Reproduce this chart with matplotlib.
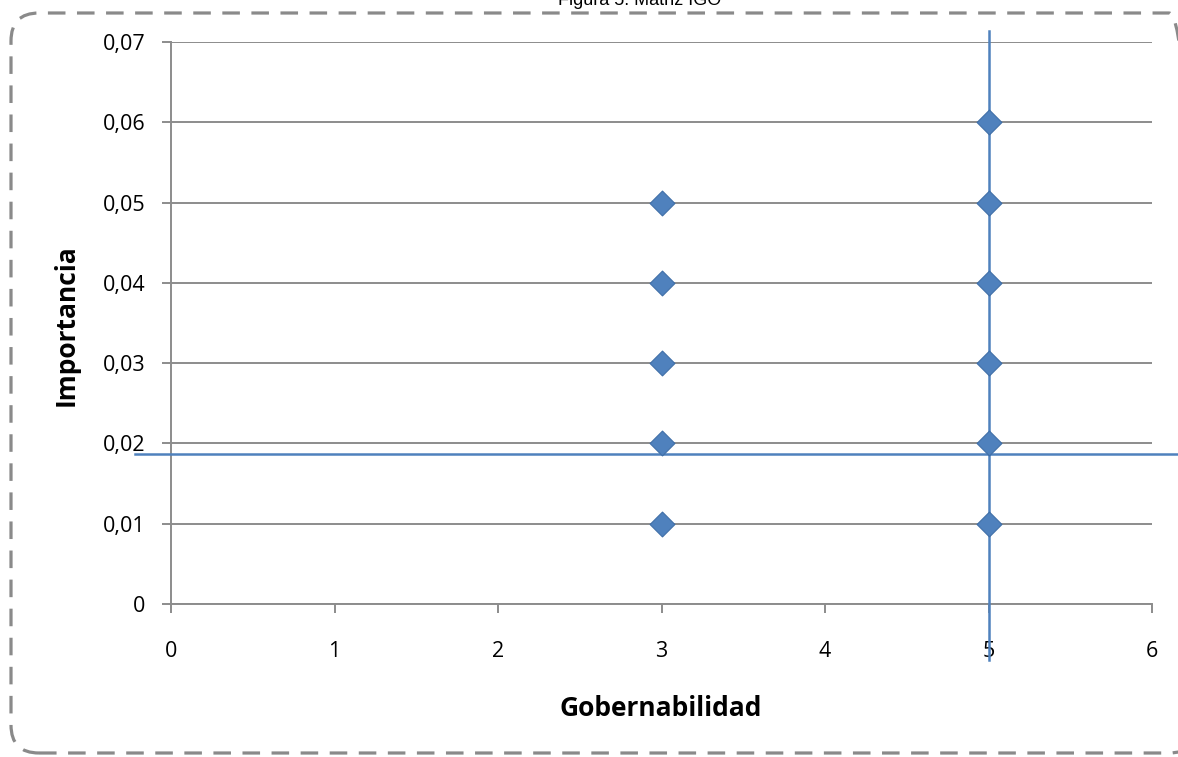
import matplotlib
matplotlib.use("Agg")
import matplotlib.pyplot as plt
from matplotlib.patches import FancyBboxPatch
from matplotlib.transforms import IdentityTransform

# Data
gob_x = [3, 3, 3, 3, 3, 5, 5, 5, 5, 5, 5]
imp_y = [0.01, 0.02, 0.03, 0.04, 0.05, 0.01, 0.02, 0.03, 0.04, 0.05, 0.06]
x_ticks = [0, 1, 2, 3, 4, 5, 6]
y_ticks = [0, 0.01, 0.02, 0.03, 0.04, 0.05, 0.06, 0.07]
y_tick_labels = ["0", "0,01", "0,02", "0,03", "0,04", "0,05", "0,06", "0,07"]
h_line_y = 0.0187
v_line_x = 5
h_line_span = (-0.22, 6.16)
v_line_span = (-0.007, 0.0714)

W, H = 1178, 757
fig = plt.figure(figsize=(W / 100, H / 100), dpi=100)
ax = fig.add_axes([171 / W, 1 - 604 / H, (1152 - 171) / W, (604 - 42) / H])

tick_font = "Open Sans"
grid_c = "#8c8c8c"
blue = "#4F81BD"

ax.set_xlim(0, 6)
ax.set_ylim(0, 0.07)
ax.set_xticks(x_ticks)
ax.set_xticklabels([str(t) for t in x_ticks], fontfamily=tick_font, fontsize=15.5)
ax.set_yticks(y_ticks)
ax.set_yticklabels(y_tick_labels, fontfamily=tick_font, fontsize=15.5)
ax.grid(axis="y", color=grid_c, linewidth=1.4)
ax.set_axisbelow(True)
for s in ["top", "right"]:
    ax.spines[s].set_visible(False)
for s in ["left", "bottom"]:
    ax.spines[s].set_color(grid_c)
    ax.spines[s].set_linewidth(1.4)
ax.tick_params(axis="both", color=grid_c, width=1.4, length=6.5, direction="out")
ax.tick_params(axis="x", pad=20)
ax.tick_params(axis="y", pad=12)

ax.scatter(gob_x, imp_y, marker="D", s=160, color=blue, edgecolors="#3f6fa8",
           linewidths=0.8, zorder=5, clip_on=False)

ax.plot(list(h_line_span), [h_line_y, h_line_y], color=blue, linewidth=1.8,
        clip_on=False, zorder=4)
ax.plot([v_line_x, v_line_x], list(v_line_span), color=blue, linewidth=1.8,
        clip_on=False, zorder=4)

ax.set_xlabel("Gobernabilidad", fontfamily=tick_font, fontweight="bold",
              fontsize=19, va="center")
ax.set_ylabel("Importancia", fontfamily=tick_font, fontweight="bold",
              fontsize=19, va="center")
ax.xaxis.set_label_coords((661 - 171) / 981, (604 - 709) / 562)
ax.yaxis.set_label_coords((66 - 171) / 981, (604 - 325) / 562)

fig.text(640 / W, 1 - 5 / H, "Figura 5. Matriz IGO", fontfamily="Liberation Sans",
         fontsize=13, ha="center", va="baseline")

# dashed rounded border in pixel coordinates
border = FancyBboxPatch((11, H - 753), 1197 - 11, 753 - 13,
                        boxstyle="round,pad=0,rounding_size=28",
                        transform=IdentityTransform(), fill=False,
                        edgecolor="#8a8a8a", linewidth=2.3,
                        linestyle=(0, (5.5, 3.6)), clip_on=False)
fig.patches.append(border)

fig.savefig("out.png", dpi=100)
